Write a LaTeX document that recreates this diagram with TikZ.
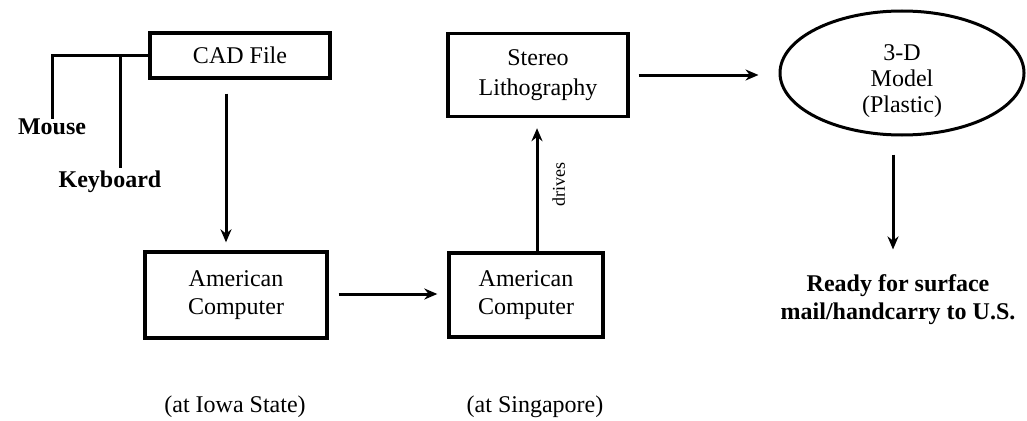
\documentclass[tikz,border=0pt]{standalone}
\usepackage{fontspec}
\setmainfont{Liberation Serif}
\usetikzlibrary{arrows.meta,shapes.geometric}
\begin{document}
\begin{tikzpicture}[x=1pt,y=-1pt,
  box/.style={draw,line width=3.4pt,rectangle,align=center,font=\fontsize{24}{28}\selectfont},
  lbl/.style={align=center,font=\bfseries\fontsize{24}{28}\selectfont},
  note/.style={font=\fontsize{24}{28}\selectfont},
  conn/.style={line width=3pt},
  arr/.style={line width=3pt,-{Stealth[length=13pt,width=11pt]}}]
\useasboundingbox (0,0) rectangle (1027,420);
\node[box,minimum width=180pt,minimum height=45pt] (cad) at (240,55.5) {CAD File};
\node[box,minimum width=182pt,minimum height=86pt] (ac1) at (236,295) {American\\Computer};
\node[box,minimum width=154pt,minimum height=84pt] (ac2) at (526,295) {American\\Computer};
\node[box,minimum width=180pt,minimum height=83pt,font=\fontsize{24}{30}\selectfont] (sl) at (538,75) {Stereo\\Lithography};
\node[draw,ellipse,line width=3pt,minimum width=244pt,minimum height=124pt,inner sep=0pt,
  label={[align=center,font=\fontsize{24}{26}\selectfont,yshift=-8pt]center:3-D\\Model\\(Plastic)}] (m3d) at (902,73) {};
\node[lbl] (mouse) at (52,127) {Mouse};
\node[lbl] (kb) at (110,182) {Keyboard};
\node[lbl] (ready) at (898,300) {Ready for surface\\mail/handcarry to U.S.};
\node[note] (iowa) at (235,407) {(at Iowa State)};
\node[note] (sing) at (535,407) {(at Singapore)};
\coordinate (kbj) at (120,55.5);
\draw[conn] (cad.west) -| ([yshift=-4pt]mouse.north);
\draw[conn] (kbj) -- (kbj |- kb.north);
\draw[arr,shorten <=14pt,shorten >=8pt] (cad.south -| 226,0) -- (ac1.north -| 226,0);
\draw[arr,shorten <=10pt,shorten >=10pt] (ac1.east |- 0,294) -- (ac2.west |- 0,294);
\draw[arr,shorten >=10pt] (ac2.north -| 537,0) -- node[midway,rotate=90,anchor=north,inner ysep=14pt,font=\fontsize{18}{20}\selectfont] {drives} (sl.south -| 537,0);
\draw[arr,shorten <=9pt,shorten >=20pt] (sl.east |- 0,75) -- (m3d.west |- 0,75);
\draw[arr,shorten <=18pt,shorten >=22pt] (m3d.south -| 893,0) -- (ready.north -| 893,0);
\end{tikzpicture}
\end{document}
